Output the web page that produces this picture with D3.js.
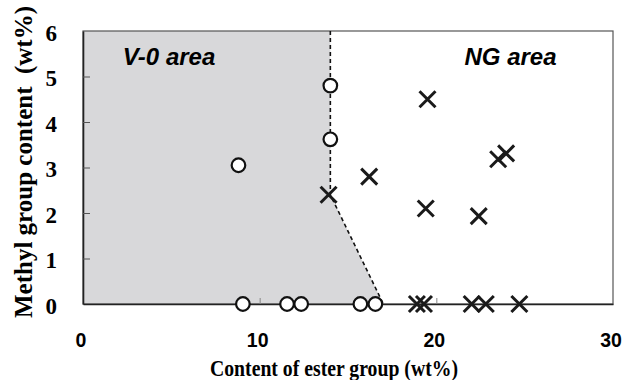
<!DOCTYPE html>
<html>
<head>
<meta charset="utf-8">
<script src="https://cdn.jsdelivr.net/npm/d3@7"></script>
<style>
  body { margin: 0; background: #fff; }
</style>
</head>
<body>
<div id="chart"></div>
<script>
// V-0 samples (circles): ester content, methyl content
const v0Ester = [8.8, 14.0, 14.0, 9.05, 11.55, 12.35, 15.7, 16.55];
const v0Methyl = [3.05, 4.8, 3.62, 0, 0, 0, 0, 0];
// NG samples (crosses)
const ngEster = [13.9, 16.2, 19.5, 23.5, 23.95, 19.4, 22.4, 18.9, 19.3, 22.0, 22.8, 24.7];
const ngMethyl = [2.4, 2.8, 4.5, 3.18, 3.31, 2.1, 1.93, 0, 0, 0, 0, 0];
// boundary of the V-0 area
const boundaryEster = [14, 14, 17];
const boundaryMethyl = [6, 2.4, 0];
const xTicks = [0, 10, 20, 30];
const yTicks = [0, 1, 2, 3, 4, 5, 6];

const W = 622, H = 380;
const margin = { top: 31, right: 9, bottom: 76, left: 83 };
const width = W - margin.left - margin.right;
const height = H - margin.top - margin.bottom;

const svg = d3.select("#chart").append("svg")
  .attr("width", W)
  .attr("height", H);
const g = svg.append("g")
  .attr("transform", "translate(" + margin.left + "," + margin.top + ")");

const x = d3.scaleLinear().domain([0, 30]).range([0, width]);
const y = d3.scaleLinear().domain([0, 6]).range([height, 0]);

// shaded V-0 area
const area = [[0, 0], [0, 6]].concat(boundaryEster.map((e, i) => [e, boundaryMethyl[i]]));
g.append("path")
  .attr("d", d3.line().x(d => x(d[0])).y(d => y(d[1]))(area) + "Z")
  .attr("fill", "#d8d8da");

// frame
g.append("rect")
  .attr("width", width).attr("height", height)
  .attr("fill", "none").attr("stroke", "#555").attr("stroke-width", 1.2);

// axes with inward ticks
const xAxis = g.append("g")
  .attr("transform", "translate(0," + height + ")")
  .call(d3.axisBottom(x).tickValues(xTicks).tickFormat(d3.format("d"))
    .tickSizeInner(-6).tickSizeOuter(0));
xAxis.select(".domain").attr("stroke", "#222").attr("stroke-width", 1.6);
xAxis.selectAll(".tick line").attr("stroke", "#888");
xAxis.selectAll("text")
  .attr("dy", 0)
  .attr("y", 43)
  .attr("x", -2.5)
  .style("font-family", "Liberation Sans, Arial, sans-serif")
  .style("font-weight", "bold")
  .style("font-size", "19.5px")
  .attr("fill", "#000");
xAxis.selectAll(".tick").filter(d => d == 0 || d == 30).select("line").remove();

const yAxis = g.append("g")
  .call(d3.axisLeft(y).tickValues(yTicks).tickFormat(d3.format("d"))
    .tickSizeInner(-7).tickSizeOuter(0).tickPadding(26));
yAxis.select(".domain").attr("stroke", "#222").attr("stroke-width", 1.6);
yAxis.selectAll(".tick line").attr("stroke", "#555");
yAxis.selectAll("text")
  .attr("dy", "0.4em")
  .style("font-family", "Liberation Serif, Times New Roman, serif")
  .style("font-weight", "bold")
  .style("font-size", "23px")
  .attr("fill", "#000");
yAxis.selectAll(".tick").filter(d => d == 0 || d == 6).select("line").remove();

// dashed boundary
g.append("path")
  .datum(boundaryEster.map((e, i) => [x(e), y(boundaryMethyl[i])]))
  .attr("d", d3.line())
  .attr("fill", "none")
  .attr("stroke", "#111")
  .attr("stroke-width", 1.6)
  .attr("stroke-dasharray", "4,3");

// area labels
g.append("text")
  .attr("x", x(2.25)).attr("y", 34)
  .style("font-family", "Liberation Sans, Arial, sans-serif")
  .style("font-weight", "bold").style("font-style", "italic")
  .style("font-size", "24px")
  .text("V-0 area");
g.append("text")
  .attr("x", x(24.2)).attr("y", 34)
  .attr("text-anchor", "middle")
  .style("font-family", "Liberation Sans, Arial, sans-serif")
  .style("font-weight", "bold").style("font-style", "italic")
  .style("font-size", "24px")
  .text("NG area");

// crosses
const s = 8;
const crosses = g.append("g");
ngEster.forEach((e, i) => {
  const cx = x(e), cy = y(ngMethyl[i]);
  crosses.append("path")
    .attr("d", "M" + (cx - s) + "," + (cy - s) + "L" + (cx + s) + "," + (cy + s) +
      "M" + (cx - s) + "," + (cy + s) + "L" + (cx + s) + "," + (cy - s))
    .attr("stroke", "#1a1a1a")
    .attr("stroke-width", 3);
});

// circles
g.append("g").selectAll("circle")
  .data(v0Ester)
  .join("circle")
  .attr("cx", d => x(d))
  .attr("cy", (d, i) => y(v0Methyl[i]))
  .attr("r", 6.8)
  .attr("fill", "#fff")
  .attr("stroke", "#111")
  .attr("stroke-width", 2.2);

// axis titles
svg.append("text")
  .attr("x", 210).attr("y", 376)
  .attr("textLength", 248)
  .attr("lengthAdjust", "spacingAndGlyphs")
  .style("font-family", "Liberation Serif, Times New Roman, serif")
  .style("font-weight", "bold")
  .style("font-size", "23px")
  .text("Content of ester group (wt%)");
svg.append("text")
  .attr("transform", "translate(32,318) rotate(-90)")
  .attr("textLength", 312)
  .attr("lengthAdjust", "spacingAndGlyphs")
  .style("font-family", "Liberation Serif, Times New Roman, serif")
  .style("font-weight", "bold")
  .style("font-size", "25px")
  .style("white-space", "pre")
  .text("Methyl group content  (wt%)");
</script>
</body>
</html>
